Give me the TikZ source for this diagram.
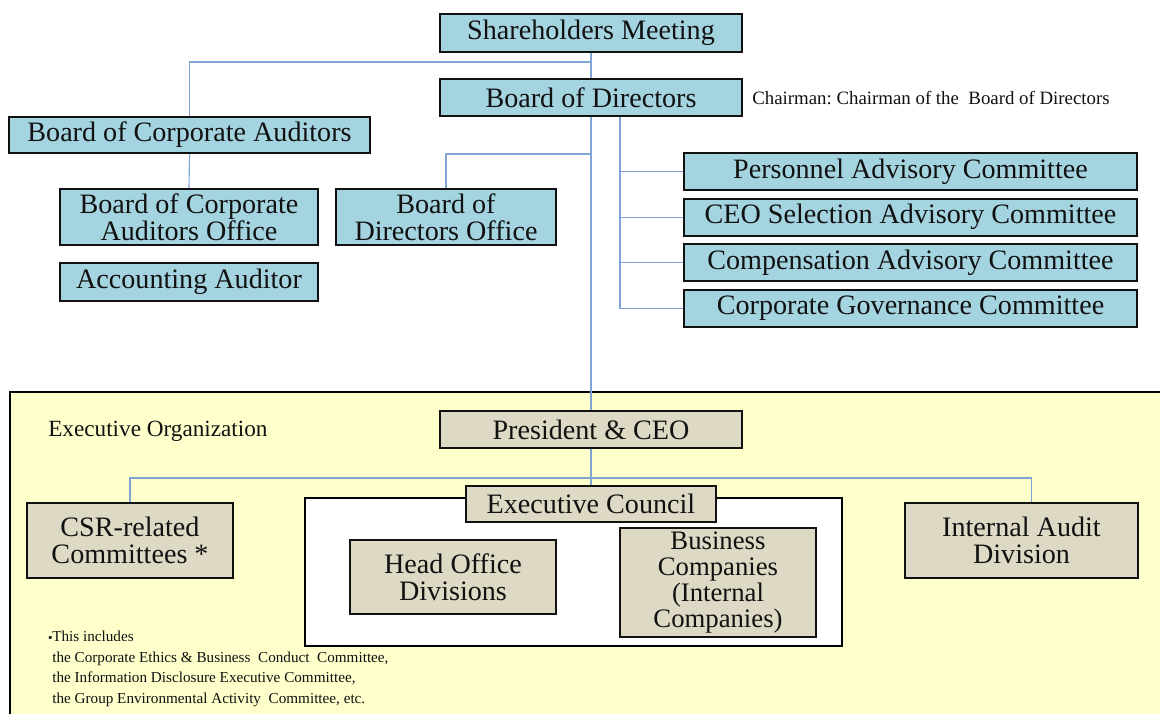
\documentclass[tikz,border=0pt]{standalone}
\usepackage{fontspec}
\setmainfont{Liberation Serif}
\usetikzlibrary{positioning}
\definecolor{orgInk}{HTML}{111111}
\definecolor{orgBoardFill}{HTML}{A5D4E1}
\definecolor{orgExecFill}{HTML}{DDD9C4}
\definecolor{orgExecArea}{HTML}{FFFFCC}
\definecolor{orgLink}{HTML}{7FA5D5}
\tikzset{
  orgBoard/.style={fill=orgBoardFill,draw=orgInk},
  orgExec/.style={fill=orgExecFill,draw=orgInk},
  orgEdge/.style={draw=orgLink,line width=0.8pt}
}

\begin{document}
\begin{tikzpicture}[x=0.025cm,y=-0.025cm,
  node distance=0.165cm,
  box/.style={line width=1.4pt,align=center,inner sep=0pt,
              font=\fontsize{20}{19.5}\selectfont,text=orgInk},
  note/.style={inner sep=0pt,align=left,text=orgInk}]
\useasboundingbox (0,0) rectangle (1160,713);
% executive area
\fill[orgExecArea] (10,392) rectangle (1175,725);
\draw[line width=2pt] (1175,392) -- (10,392) -- (10,725);
\node[note,anchor=west,font=\fontsize{16.5}{18}\selectfont] (eo) at (48,431) {Executive Organization};
\draw[line width=2pt,fill=white] (305,498) rectangle (842,646);

% governance
\node[box,orgBoard,minimum width=7.55cm,minimum height=0.95cm] (sh) at (591,33) {Shareholders Meeting};
\node[box,orgBoard,minimum width=7.55cm,minimum height=0.925cm] (bod) at (591,97.5) {Board of Directors};
\node[note,anchor=west,font=\fontsize{13.4}{14}\selectfont] (chair) at (752,98) {Chairman:\ Chairman of the\ \ Board of Directors};
\node[box,orgBoard,minimum width=9.025cm,minimum height=0.9cm] (bca) at (189.5,135) {Board of Corporate Auditors};
\node[box,orgBoard,minimum width=6.45cm,minimum height=1.4cm] (bcao) at (189,217) {Board of Corporate\\Auditors Office};
\node[box,orgBoard,minimum width=5.5cm,minimum height=1.4cm] (bodo) at (446,217) {Board of\\Directors Office};
\node[box,orgBoard,minimum width=6.45cm,minimum height=0.95cm] (acc) at (189,282) {Accounting Auditor};
\node[box,orgBoard,minimum width=11.325cm,minimum height=0.925cm] (pac) at (910.5,171.5) {Personnel Advisory Committee};
\node[box,orgBoard,minimum width=11.325cm,minimum height=0.925cm,below=of pac] (ceo) {CEO Selection Advisory Committee};
\node[box,orgBoard,minimum width=11.325cm,minimum height=0.925cm,below=of ceo] (cac) {Compensation Advisory Committee};
\node[box,orgBoard,minimum width=11.325cm,minimum height=0.925cm,below=of cac] (cgc) {Corporate Governance Committee};

% execution
\node[box,orgExec,minimum width=7.55cm,minimum height=0.925cm] (pres) at (591,429.5) {President \& CEO};
\node[box,orgExec,minimum width=6.25cm,minimum height=0.9cm] (council) at (591,504) {Executive Council};
\node[box,orgExec,minimum width=5.15cm,minimum height=1.875cm] (csr) at (130,540.5) {CSR-related\\Committees *};
\node[box,orgExec,minimum width=5.15cm,minimum height=1.85cm] (hod) at (453,577) {Head Office\\Divisions};
\node[box,orgExec,minimum width=4.9cm,minimum height=2.725cm,font=\fontsize{19}{18.6}\selectfont] (biz) at (718,582.5) {Business\\Companies\\(Internal\\Companies)};
\node[box,orgExec,minimum width=5.825cm,minimum height=1.875cm] (iad) at (1021.5,540.5) {Internal Audit\\Division};
\node[note,anchor=north west,font=\fontsize{10.8}{14.6}\selectfont] (csrnote) at (52,631)
  {\llap{\fontsize{8}{8}\selectfont ▪}This includes\\
   the Corporate Ethics \& Business\ \ Conduct\ \ Committee,\\
   the Information Disclosure Executive Committee,\\
   the Group Environmental Activity\ \ Committee, etc.};

% links
\draw[orgEdge] (sh.south) -- (bod.north);
\draw[orgEdge] (sh.south) -- ++(0,9) -| (bca.north);
\draw[orgEdge] (bca.south) -- (bcao.north);
\draw[orgEdge] (bod.south) -- ++(0,37) -| (bodo.north);
\foreach \c in {pac,ceo,cac,cgc}
  \draw[orgEdge] ([xshift=0.725cm]bod.south) |- (\c.west);
\draw[orgEdge] (bod.south) -- (pres.north);
\draw[orgEdge] (pres.south) -- (council.north);
\draw[orgEdge] (pres.south) -- ++(0,29) -| (csr.north);
\draw[orgEdge] (pres.south) -- ++(0,29) -| ([xshift=0.24cm]iad.north);
\end{tikzpicture}
\end{document}
